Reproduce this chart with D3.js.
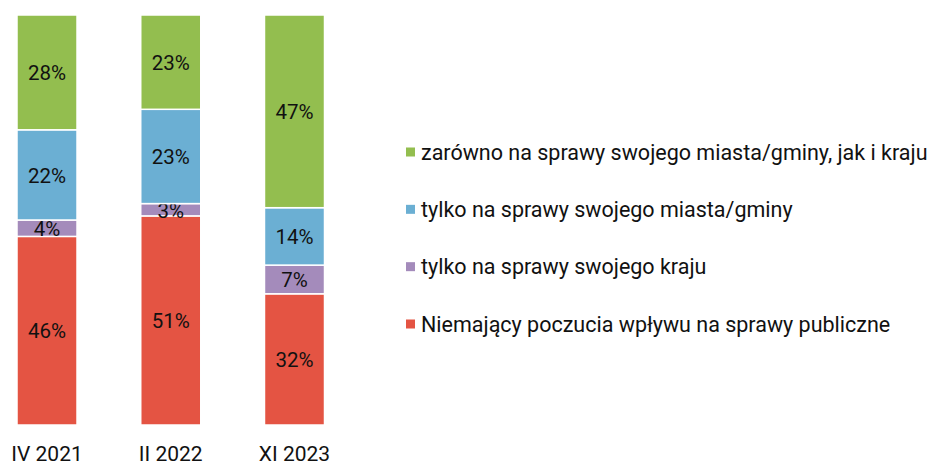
<!DOCTYPE html>
<html><head><meta charset="utf-8">
<script src="https://cdn.jsdelivr.net/npm/d3@7"></script>
<style>body{margin:0;background:#fff}svg{display:block;font-family:Roboto,sans-serif}</style>
</head><body><svg id="c" width="928" height="464"></svg>
<script>
const categories = ["IV 2021", "II 2022", "XI 2023"];
const seriesNames = [
  "Niemający poczucia wpływu na sprawy publiczne",
  "tylko na sprawy swojego kraju",
  "tylko na sprawy swojego miasta/gminy",
  "zarówno na sprawy swojego miasta/gminy, jak i kraju"
];
const noInfluence = [46, 51, 32];
const countryOnly = [4, 3, 7];
const cityOnly = [22, 23, 14];
const both = [28, 23, 47];
const colors = ["#e45443", "#a48bbb", "#6bafd3", "#93be4f"];

const values = [noInfluence, countryOnly, cityOnly, both];
const svg = d3.select("#c");
const x = d3.scaleBand().domain(categories).range([17, 324.5]).paddingInner(0.515).paddingOuter(0);
const y = d3.scaleLinear().domain([0, 100]).range([425, 15]);

const rows = categories.map((c, i) => {
  const r = {cat: c};
  seriesNames.forEach((s, j) => r[s] = values[j][i]);
  return r;
});
const stack = d3.stack().keys(seriesNames)(rows);

stack.forEach((layer, j) => {
  const g = svg.append("g");
  g.selectAll("rect").data(layer).join("rect")
    .attr("x", d => x(d.data.cat))
    .attr("width", x.bandwidth())
    .attr("y", d => y(d[1]))
    .attr("height", d => y(d[0]) - y(d[1]))
    .attr("fill", colors[j])
    .attr("stroke", "#fff").attr("stroke-width", 1.5);
  g.selectAll("text").data(layer).join("text")
    .attr("x", d => x(d.data.cat) + x.bandwidth() / 2)
    .attr("y", d => (y(d[0]) + y(d[1])) / 2)
    .attr("dy", "0.38em")
    .attr("text-anchor", "middle")
    .attr("font-size", 20.5)
    .attr("fill", "#111")
    .text(d => (d[1] - d[0]) + "%");
});

const xAxis = d3.axisBottom(x).tickSize(0).tickPadding(0);
const ax = svg.append("g").attr("transform", "translate(0,446)").call(xAxis);
ax.select(".domain").remove();
ax.selectAll("text").attr("font-size", 21).attr("fill", "#111").attr("font-family", "Roboto,sans-serif").attr("dy", "0.71em");

const legendOrder = [3, 2, 1, 0];
const ly = d3.scalePoint().domain(legendOrder).range([152, 324]);
const lg = svg.append("g");
legendOrder.forEach(j => {
  lg.append("rect").attr("x", 406).attr("y", ly(j) - 4.5).attr("width", 9).attr("height", 9).attr("fill", colors[j]);
  lg.append("text").attr("x", 421).attr("y", ly(j)).attr("dy", "0.35em")
    .attr("font-size", 21.5).attr("fill", "#111").text(seriesNames[j]);
});
</script></body></html>
